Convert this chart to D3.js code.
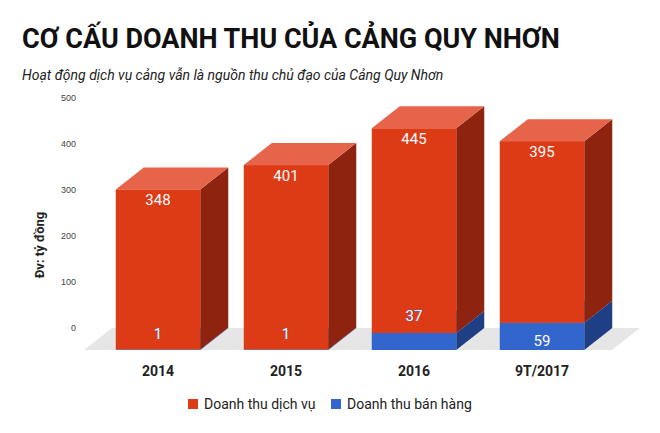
<!DOCTYPE html>
<html><head><meta charset="utf-8">
<script src="https://cdn.jsdelivr.net/npm/d3@7"></script>
<style>body{margin:0;background:#fff;font-family:Roboto,Arial,sans-serif}</style>
</head><body>
<svg id="c" width="660" height="433"></svg>
<script>
const years = ["2014", "2015", "2016", "9T/2017"];
const banHang = [1, 1, 37, 59];
const dichVu = [348, 401, 445, 395];
const yTicks = [0, 100, 200, 300, 400, 500];

const svg = d3.select("#c");
const dx = 28, dy = -22; // depth offset
const y = d3.scaleLinear().domain([0, 500]).range([328, 98]);
const x = d3.scaleBand().domain(years).range([94, 606]).paddingInner(0.34).paddingOuter(0.17);

svg.append("text").attr("x", 22).attr("y", 48).attr("font-size", 27).attr("font-weight", "bold")
  .attr("fill", "#111").text("CƠ CẤU DOANH THU CỦA CẢNG QUY NHƠN");
svg.append("text").attr("x", 22).attr("y", 80).attr("font-size", 14).attr("font-style", "italic")
  .attr("fill", "#222").text("Hoạt động dịch vụ cảng vẫn là nguồn thu chủ đạo của Cảng Quy Nhơn");

// axis ticks
svg.append("g").attr("transform", "translate(76,0)")
  .call(d3.axisLeft(y).tickValues(yTicks).tickSize(0).tickPadding(0))
  .call(g => g.select(".domain").remove())
  .selectAll("text").attr("font-size", 9).attr("fill", "#444");

svg.append("text").attr("transform", "translate(44,245) rotate(-90)").attr("text-anchor", "middle")
  .attr("font-size", 13).attr("font-weight", "bold").attr("fill", "#222").text("Đv: tỷ đồng");

// floor
const fy = y(0) - dy;
svg.append("path").attr("fill", "#e6e6e6")
  .attr("d", `M84,${fy}L${84 + dx},${fy + dy}L${640},${fy + dy}L${640 - dx},${fy}Z`);

const yf = v => y(v) - dy; // front face y
const w = x.bandwidth();

function box(x0, v0, v1, front, top, side) {
  const g = svg.append("g");
  const t = yf(v1), b = yf(v0);
  g.append("path").attr("fill", side)
    .attr("d", `M${x0 + w},${b}L${x0 + w + dx},${b + dy}L${x0 + w + dx},${t + dy}L${x0 + w},${t}Z`);
  g.append("path").attr("fill", top)
    .attr("d", `M${x0},${t}L${x0 + dx},${t + dy}L${x0 + w + dx},${t + dy}L${x0 + w},${t}Z`);
  g.append("rect").attr("x", x0).attr("y", t).attr("width", w).attr("height", b - t).attr("fill", front);
}

years.forEach((yr, i) => {
  const x0 = x(yr);
  box(x0, 0, banHang[i], "#3366cc", "#5b84d9", "#1f3f85");
  box(x0, banHang[i], banHang[i] + dichVu[i], "#dd3a16", "#e6654a", "#8e2410");
  svg.append("text").attr("x", x0 + w / 2).attr("y", yf(banHang[i] + dichVu[i]) + 16)
    .attr("text-anchor", "middle").attr("font-size", 15).attr("fill", "#fff").text(dichVu[i]);
  const by = banHang[i] < 30 ? yf(0) - 16 : (banHang[i] < 50 ? yf(banHang[i]) - 17 : (yf(0) + yf(banHang[i])) / 2 + 5);
  svg.append("text").attr("x", x0 + w / 2).attr("y", by + 5)
    .attr("text-anchor", "middle").attr("font-size", 15).attr("fill", "#fff")
    .attr("stroke", "#3366cc").attr("stroke-width", 0.6).attr("paint-order", "stroke").text(banHang[i]);
  svg.append("text").attr("x", x0 + w / 2).attr("y", 376).attr("text-anchor", "middle")
    .attr("font-size", 14).attr("font-weight", "bold").attr("fill", "#222").text(yr);
});

// legend
const leg = [["Doanh thu dịch vụ", "#dd3a16", 188], ["Doanh thu bán hàng", "#3366cc", 331]];
leg.forEach(([t, c, lx]) => {
  svg.append("rect").attr("x", lx).attr("y", 399).attr("width", 10).attr("height", 10).attr("fill", c);
  svg.append("text").attr("x", lx + 16).attr("y", 409).attr("font-size", 14).attr("fill", "#222").text(t);
});
</script>
</body></html>
